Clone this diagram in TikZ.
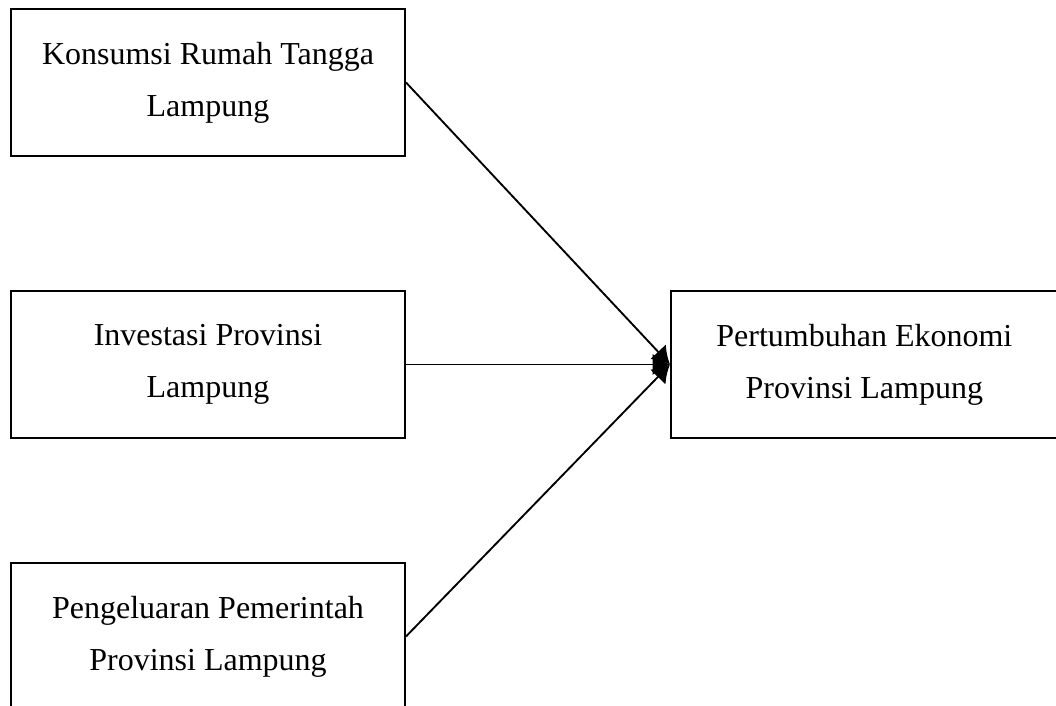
\documentclass[tikz,border=0pt]{standalone}
\usepackage{fontspec}
\setmainfont{Liberation Serif}
\usetikzlibrary{arrows.meta,positioning}
\tikzset{
var_box/.style={rectangle, draw, line width=0.75pt, minimum width=147.75pt, minimum height=55.1pt, align=center, inner sep=0pt, font=\fontsize{12pt}{19.5pt}\selectfont},
link/.style={-{Latex[length=6.5pt,width=8pt]}, line width=0.7pt}
}

\begin{document}
\begin{tikzpicture}
    \useasboundingbox (0,0) rectangle (396pt,-264.75pt);
    \clip (0,0) rectangle (396pt,-264.75pt);
    \node[var_box, anchor=north west] (konsumsi) at (3.75pt,-3pt) {Konsumsi Rumah Tangga\\Lampung};
    \node[var_box] (investasi) [below=49.9pt of konsumsi] {Investasi Provinsi\\Lampung};
    \node[var_box] (pengeluaran) [below=46.15pt of investasi] {Pengeluaran Pemerintah\\Provinsi Lampung};
    \node[var_box, minimum width=145pt] (pertumbuhan) [right=99pt of investasi] {Pertumbuhan Ekonomi\\Provinsi Lampung};
    \draw[link] (konsumsi.east) -- (pertumbuhan.west);
    \draw[link] (investasi.east) -- (pertumbuhan.west);
    \draw[link] (pengeluaran.east) -- (pertumbuhan.west);
\end{tikzpicture}
\end{document}
